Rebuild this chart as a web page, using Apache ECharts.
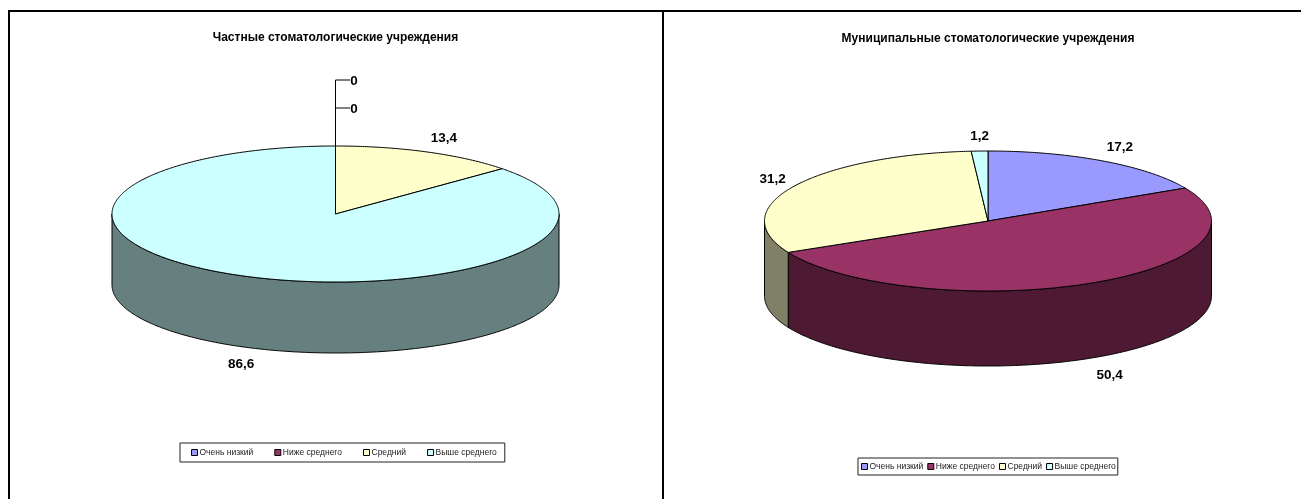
<!DOCTYPE html>
<html>
<head>
<meta charset="utf-8">
<style>
  html, body { margin: 0; padding: 0; background: #fff; }
  #main { width: 1301px; height: 499px; }
</style>
<script src="https://cdn.jsdelivr.net/npm/echarts@6/dist/echarts.min.js"></script>
</head>
<body>
<div id="main"></div>
<script>
'use strict';

var categories = ['Очень низкий', 'Ниже среднего', 'Средний', 'Выше среднего'];
var colors = ['#9999FF', '#993366', '#FFFFCC', '#CCFFFF'];
var sideColors = ['#4D4D80', '#4D1933', '#808066', '#668080'];

var privateTitle = 'Частные стоматологические учреждения';
var privateValues = [0, 0, 13.4, 86.6];
var privateLabels = ['0', '0', '13,4', '86,6'];

var municipalTitle = 'Муниципальные стоматологические учреждения';
var municipalValues = [17.2, 50.4, 31.2, 1.2];
var municipalLabels = ['17,2', '50,4', '31,2', '1,2'];

// where each pie sits, labelOffset is relative to the middle of the slice rim
var panels = [
  {
    title: privateTitle, values: privateValues, labels: privateLabels,
    cx: 335.5, cy: 214, rx: 223.5, ry: 68, depth: 71,
    labelOffset: [[18.5, -38], [18.5, -66], [17, -15], [-3, 16]]
  },
  {
    title: municipalTitle, values: municipalValues, labels: municipalLabels,
    cx: 988, cy: 221, rx: 223.5, ry: 70, depth: 75,
    labelOffset: [[17, -15], [19, 16], [-21, -8], [0, -16]]
  }
];

function rimPoint(panel, deg, drop) {
  var a = deg * Math.PI / 180;
  return [panel.cx + panel.rx * Math.sin(a), panel.cy - panel.ry * Math.cos(a) + drop];
}

function arcPoints(panel, from, to, drop) {
  var pts = [];
  var steps = Math.max(1, Math.ceil((to - from) * 2));
  for (var i = 0; i <= steps; i++) {
    pts.push(rimPoint(panel, from + (to - from) * i / steps, drop));
  }
  return pts;
}

function sliceRenderer(panel, index) {
  var before = 0;
  var total = 0;
  panel.values.forEach(function (v, i) {
    total += v;
    if (i < index) before += v;
  });
  return function (params, api) {
    var value = api.value(0);
    var start = before / total * 360;
    var end = (before + value) / total * 360;
    var mid = (start + end) / 2;
    var stroke = { stroke: '#000', lineWidth: 1 };
    var children = [];

    if (value > 0) {
      // only the front half of the rim (90-270 deg) shows a wall
      var wallFrom = Math.max(start, 90);
      var wallTo = Math.min(end, 270);
      if (wallTo > wallFrom) {
        var wall = arcPoints(panel, wallFrom, wallTo, 0)
          .concat(arcPoints(panel, wallFrom, wallTo, panel.depth).reverse());
        children.push({
          type: 'polygon', z2: 1, shape: { points: wall },
          style: Object.assign({ fill: sideColors[index] }, stroke)
        });
      }
      children.push({
        type: 'polygon', z2: 2,
        shape: { points: [[panel.cx, panel.cy]].concat(arcPoints(panel, start, end, 0)) },
        style: Object.assign({ fill: colors[index] }, stroke)
      });
    }

    var cosMid = Math.cos(mid * Math.PI / 180);
    var anchor = rimPoint(panel, mid, cosMid < 0 ? panel.depth : 0);
    var off = panel.labelOffset[index];
    var lx = anchor[0] + off[0];
    var ly = anchor[1] + off[1];

    // empty slices get a leader line going up from the pie
    if (value === 0) {
      children.push({
        type: 'polyline', z2: 3,
        shape: { points: [anchor, [anchor[0], ly], [lx - 4, ly]] },
        style: { stroke: '#000', lineWidth: 1, fill: null }
      });
    }
    children.push({
      type: 'text', z2: 4,
      style: {
        x: lx, y: ly + 1, text: panel.labels[index], fill: '#000',
        font: 'bold 13.5px "Liberation Sans", Arial, sans-serif',
        align: 'center', verticalAlign: 'middle'
      }
    });
    return { type: 'group', children: children };
  };
}

var series = [];
panels.forEach(function (panel) {
  categories.forEach(function (name, i) {
    series.push({
      type: 'custom',
      name: name,
      coordinateSystem: 'none',
      color: colors[i],
      itemStyle: { color: colors[i] },
      legendIcon: 'rect',
      clip: false,
      silent: true,
      animation: false,
      data: [[panel.values[i]]],
      renderItem: sliceRenderer(panel, i)
    });
  });
});

var titleFont = { fontFamily: '"Liberation Sans", Arial, sans-serif', fontWeight: 'bold', fontSize: 12, color: '#000' };
var legendBase = {
  orient: 'horizontal',
  data: categories,
  selectedMode: false,
  icon: 'rect',
  itemWidth: 6,
  itemHeight: 6,
  borderColor: '#222',
  borderWidth: 1,
  backgroundColor: '#fff',
  itemStyle: { borderColor: '#000', borderWidth: 1 },
  textStyle: { fontFamily: '"Liberation Sans", Arial, sans-serif', fontSize: 8.5, color: '#222', padding: [0, 0, 0, -3] }
};

var myChart = echarts.init(document.getElementById('main'), null, { renderer: 'canvas' });
myChart.setOption({
  backgroundColor: '#fff',
  animation: false,
  title: [
    { text: privateTitle, left: 335.5, top: 32, textAlign: 'center', padding: 0, textStyle: titleFont },
    { text: municipalTitle, left: 988, top: 33, textAlign: 'center', padding: 0, textStyle: titleFont }
  ],
  legend: [
    Object.assign({}, legendBase, { left: 180, top: 443, itemGap: 21, padding: [5, 8, 5, 11] }),
    Object.assign({}, legendBase, { left: 858, top: 458, itemGap: 4, padding: [4, 2, 4, 3] })
  ],
  graphic: [
    { type: 'polyline', silent: true, shape: { points: [[9, 499], [9, 11], [1301, 11]] }, style: { stroke: '#000', lineWidth: 2, fill: null } },
    { type: 'line', silent: true, shape: { x1: 663, y1: 11, x2: 663, y2: 499 }, style: { stroke: '#000', lineWidth: 2 } }
  ],
  series: series
});
</script>
</body>
</html>
